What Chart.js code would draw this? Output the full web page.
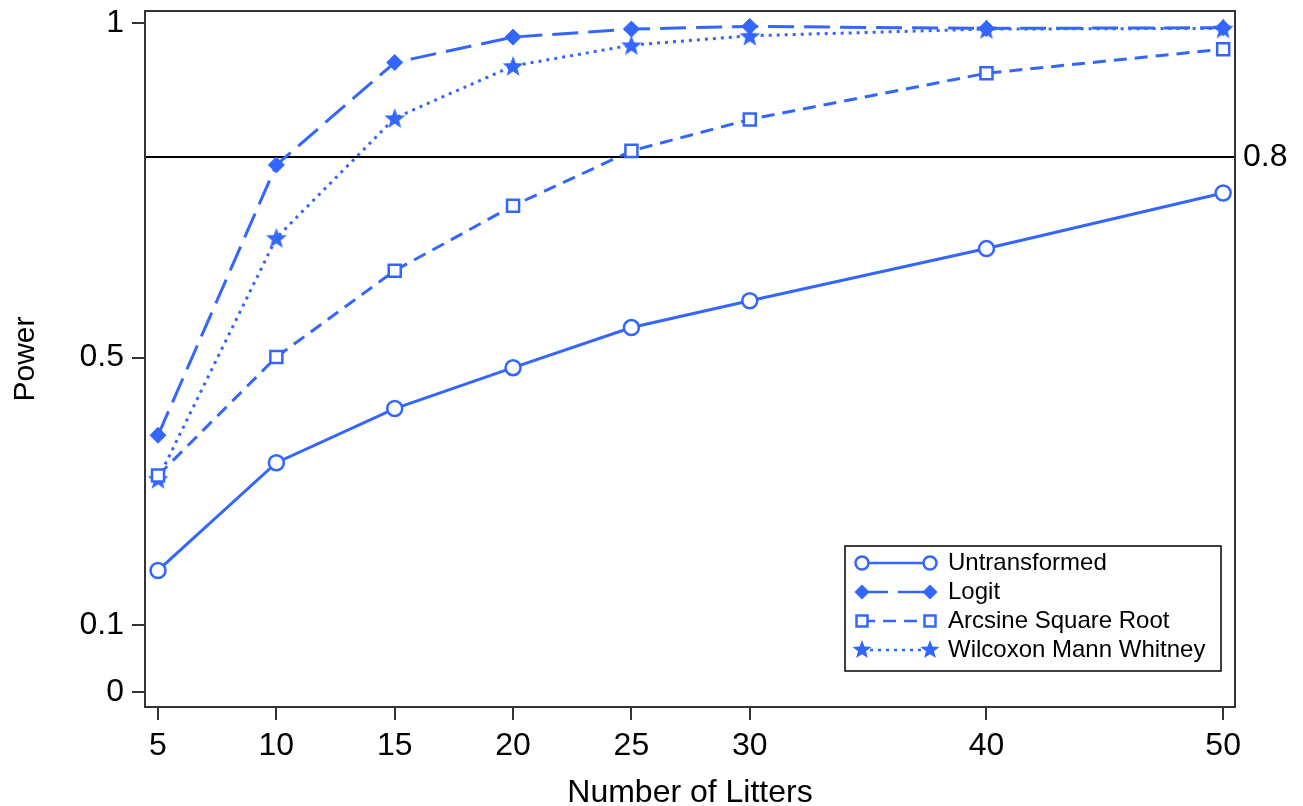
<!DOCTYPE html>
<html lang="en">
<head>
<meta charset="UTF-8">
<title>Power by Number of Litters</title>
<script src="https://cdn.jsdelivr.net/npm/chart.js@4.4.1/dist/chart.umd.min.js"></script>
<style>
  html, body { margin: 0; padding: 0; background: #fff; }
  #wrap { width: 1303px; height: 806px; }
</style>
</head>
<body>
<div id="wrap"><canvas id="chart" width="1303" height="806"></canvas></div>
<script>
const litters = [5, 10, 15, 20, 25, 30, 40, 50];
const untransformed = [0.182, 0.343, 0.424, 0.485, 0.545, 0.585, 0.663, 0.746];
const logit = [0.384, 0.788, 0.941, 0.979, 0.991, 0.995, 0.992, 0.993];
const arcsine = [0.324, 0.501, 0.630, 0.727, 0.809, 0.856, 0.925, 0.961];
const wilcoxon = [0.319, 0.679, 0.858, 0.936, 0.967, 0.981, 0.991, 0.992];
const yTicks = [0, 0.1, 0.5, 1];
const targetPower = 0.8;

const BLUE = '#3366ff';
const AXIS = '#333333';
const FONT = '"Liberation Sans", Arial, sans-serif';

// filled five-point star for the Wilcoxon markers
function makeStar(r) {
  const c = document.createElement('canvas');
  const s = Math.ceil(r * 2 + 2);
  c.width = s; c.height = s;
  const g = c.getContext('2d');
  g.fillStyle = BLUE;
  g.beginPath();
  for (let i = 0; i < 10; i++) {
    const rad = i % 2 === 0 ? r : r * 0.42;
    const a = -Math.PI / 2 + i * Math.PI / 5;
    const px = s / 2 + rad * Math.cos(a);
    const py = s / 2 + 1 + rad * Math.sin(a);
    if (i === 0) g.moveTo(px, py); else g.lineTo(px, py);
  }
  g.closePath();
  g.fill();
  return c;
}
const star = makeStar(11);
const legendStar = makeStar(10);

const toXY = arr => arr.map((v, i) => ({ x: litters[i], y: v }));

const datasets = [
  { label: 'Untransformed', data: toXY(untransformed), borderDash: [],
    pointStyle: 'circle', pointRadius: 7.5, pointBackgroundColor: '#fff', pointBorderWidth: 2.5 },
  { label: 'Logit', data: toXY(logit), borderDash: [26, 10],
    pointStyle: 'rectRot', pointRadius: 8, pointBackgroundColor: BLUE, pointBorderWidth: 1 },
  { label: 'Arcsine Square Root', data: toXY(arcsine), borderDash: [13, 8],
    pointStyle: 'rect', pointRadius: 8.5, pointBackgroundColor: '#fff', pointBorderWidth: 2.5 },
  { label: 'Wilcoxon Mann Whitney', data: toXY(wilcoxon), borderDash: [3, 5],
    pointStyle: star, pointRadius: 11, pointBackgroundColor: BLUE, pointBorderWidth: 0 }
].map(d => Object.assign({
  borderColor: BLUE, borderWidth: 3, pointBorderColor: BLUE,
  tension: 0, fill: false
}, d));

// frame, 0.8 reference line and its label, boxed legend
const extras = {
  id: 'extras',
  beforeDatasetsDraw(chart) {
    const { ctx, chartArea: a, scales } = chart;
    const y = scales.y.getPixelForValue(targetPower);
    ctx.save();
    ctx.strokeStyle = '#000';
    ctx.lineWidth = 2;
    ctx.beginPath();
    ctx.moveTo(a.left, y);
    ctx.lineTo(a.right, y);
    ctx.stroke();
    ctx.fillStyle = '#000';
    ctx.font = '32px ' + FONT;
    ctx.textBaseline = 'middle';
    ctx.fillText(String(targetPower), a.right + 8, y);
    ctx.restore();
  },
  afterDraw(chart) {
    const { ctx, chartArea: a } = chart;
    ctx.save();
    ctx.strokeStyle = AXIS;
    ctx.lineWidth = 2;
    ctx.strokeRect(a.left, a.top, a.right - a.left, a.bottom - a.top);

    const bx = 845, by = 546, bw = 376, bh = 125;
    ctx.lineWidth = 1.5;
    ctx.strokeStyle = '#000';
    ctx.strokeRect(bx, by, bw, bh);
    chart.data.datasets.forEach((ds, i) => {
      const cy = by + 17 + i * 29;
      const x1 = bx + 17, x2 = bx + 85;
      ctx.strokeStyle = BLUE;
      ctx.lineWidth = 2.5;
      ctx.setLineDash(ds.borderDash);
      ctx.beginPath();
      ctx.moveTo(x1, cy);
      ctx.lineTo(x2, cy);
      ctx.stroke();
      ctx.setLineDash([]);
      [x1, x2].forEach(px => {
        ctx.beginPath();
        if (ds.pointStyle === 'circle') {
          ctx.arc(px, cy, 6.5, 0, Math.PI * 2);
          ctx.fillStyle = '#fff'; ctx.fill(); ctx.stroke();
        } else if (ds.pointStyle === 'rectRot') {
          ctx.moveTo(px, cy - 7.5); ctx.lineTo(px + 7.5, cy);
          ctx.lineTo(px, cy + 7.5); ctx.lineTo(px - 7.5, cy);
          ctx.closePath();
          ctx.fillStyle = BLUE; ctx.fill();
        } else if (ds.pointStyle === 'rect') {
          ctx.rect(px - 5.5, cy - 5.5, 11, 11);
          ctx.fillStyle = '#fff'; ctx.fill(); ctx.stroke();
        } else {
          ctx.drawImage(legendStar, px - legendStar.width / 2, cy - legendStar.height / 2 - 1);
        }
      });
      ctx.fillStyle = '#000';
      ctx.font = '24px ' + FONT;
      ctx.textBaseline = 'middle';
      ctx.fillText(ds.label, bx + 103, cy);
    });
    ctx.restore();
  }
};

new Chart(document.getElementById('chart'), {
  type: 'line',
  data: { datasets },
  plugins: [extras],
  options: {
    responsive: false,
    animation: false,
    layout: { padding: { top: 11, right: 68, left: 0, bottom: 0 } },
    plugins: { legend: { display: false }, tooltip: { enabled: false } },
    scales: {
      x: {
        type: 'linear',
        min: 4.45,
        max: 50.5,
        afterFit: s => { s.height = 99; s.paddingLeft = 0; s.paddingRight = 0; },
        afterBuildTicks: s => { s.ticks = litters.map(v => ({ value: v })); },
        ticks: { color: '#000', padding: 7, font: { family: FONT, size: 32 }, callback: v => String(v), autoSkip: false, maxRotation: 0 },
        grid: { drawOnChartArea: false, drawTicks: true, tickLength: 13, color: AXIS, lineWidth: 2 },
        border: { display: true, color: AXIS, width: 2 },
        title: { display: true, text: 'Number of Litters', color: '#000', font: { family: FONT, size: 32 }, padding: { top: 0, bottom: -6 } }
      },
      y: {
        type: 'linear',
        min: -0.022,
        max: 1.018,
        afterFit: s => { s.width = 145; s.paddingTop = 0; s.paddingBottom = 0; },
        afterBuildTicks: s => { s.ticks = yTicks.map(v => ({ value: v })); },
        ticks: { color: '#000', padding: 8, font: { family: FONT, size: 32 }, callback: v => String(v), autoSkip: false },
        grid: { drawOnChartArea: false, drawTicks: true, tickLength: 13, color: AXIS, lineWidth: 2 },
        border: { display: true, color: AXIS, width: 2 },
        title: { display: true, text: 'Power', color: '#000', font: { family: FONT, size: 30 }, padding: { top: 8, bottom: 0 } }
      }
    }
  }
});
</script>
</body>
</html>
